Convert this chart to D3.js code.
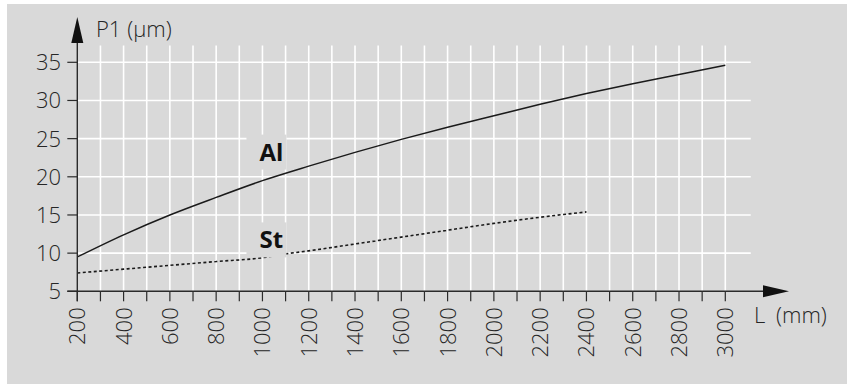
<!DOCTYPE html>
<html>
<head>
<meta charset="utf-8">
<script src="https://cdn.jsdelivr.net/npm/d3@7"></script>
<style>
  html, body { margin: 0; padding: 0; background: #fff; }
  svg { display: block; font-family: "Open Sans", "Noto Sans", sans-serif; }
</style>
</head>
<body>
<div id="chart"></div>
<script>
// values
const lengths = [200, 400, 600, 800, 1000, 1200, 1400, 1600, 1800, 2000, 2200, 2400, 2600, 2800, 3000];
const alValues = [9.5, 12.4, 15.0, 17.3, 19.5, 21.4, 23.2, 24.9, 26.5, 28.0, 29.5, 30.9, 32.2, 33.4, 34.6];
const stLengths = [200, 400, 600, 800, 1000, 1100, 1200, 1400, 1600, 1800, 2000, 2200, 2400];
const stValues = [7.4, 7.9, 8.4, 8.9, 9.4, 9.9, 10.3, 11.2, 12.1, 13.0, 13.9, 14.7, 15.4];
const xLabels = [200, 400, 600, 800, 1000, 1200, 1400, 1600, 1800, 2000, 2200, 2400, 2600, 2800, 3000];
const xMinor = d3.range(200, 3001, 100);
const yTicks = [5, 10, 15, 20, 25, 30, 35];

const width = 847, height = 384;

const svg = d3.select('#chart')
    .append('svg')
    .attr('width', width)
    .attr('height', height);

svg.append('rect')
    .attr('x', 7).attr('y', 4)
    .attr('width', width - 7).attr('height', height - 4)
    .attr('fill', '#d9d9d9');

const x = d3.scaleLinear().domain([200, 3000]).range([77.3, 725.3]);
const y = d3.scaleLinear().domain([5, 35]).range([291.3, 62.3]);

const ink = '#2b2b2b';
const textCol = '#262626';
const fs = 22;

// grid
const grid = svg.append('g');
grid.selectAll('.vg')
    .data(xMinor.slice(1))
    .enter().append('line')
    .attr('x1', d => x(d)).attr('x2', d => x(d))
    .attr('y1', y(37.2)).attr('y2', y(5))
    .attr('stroke', '#fff').attr('stroke-width', 1.6);
grid.selectAll('.hg')
    .data(yTicks.slice(1))
    .enter().append('line')
    .attr('x1', x(200)).attr('x2', x(3110))
    .attr('y1', d => y(d)).attr('y2', d => y(d))
    .attr('stroke', '#fff').attr('stroke-width', 1.6);

// curves
const line = d3.line()
    .x(d => x(d[0]))
    .y(d => y(d[1]))
    .curve(d3.curveCatmullRom);

svg.append('path')
    .datum(lengths.map((l, i) => [l, alValues[i]]))
    .attr('d', line)
    .attr('fill', 'none')
    .attr('stroke', '#1a1a1a')
    .attr('stroke-width', 1.5);

svg.append('path')
    .datum(stLengths.map((l, i) => [l, stValues[i]]))
    .attr('d', line.curve(d3.curveMonotoneX))
    .attr('fill', 'none')
    .attr('stroke', '#1a1a1a')
    .attr('stroke-width', 1.6)
    .attr('stroke-dasharray', '3,2.5');

// series labels with background boxes that cut the grid
const labels = [
    { text: 'Al', L: 1000, v: 23.3 },
    { text: 'St', L: 1000, v: 11.8 }
];
const lab = svg.selectAll('.lab').data(labels).enter().append('g');
lab.append('rect')
    .attr('x', d => x(d.L) - 16)
    .attr('y', d => y(d.v) - 17)
    .attr('width', 40)
    .attr('height', 35)
    .attr('fill', '#d9d9d9');
lab.append('text')
    .attr('x', d => x(d.L) - 3)
    .attr('y', d => y(d.v) + 9)
    .attr('font-size', 24)
    .attr('font-weight', 700)
    .attr('fill', '#111')
    .text(d => d.text);

// axes
const axes = svg.append('g');
axes.append('line')
    .attr('x1', x(200)).attr('x2', x(200))
    .attr('y1', y(5) + 10).attr('y2', 40)
    .attr('stroke', ink).attr('stroke-width', 1.4);
axes.append('path')
    .attr('d', `M${x(200) - 6},43 L${x(200)},17 L${x(200) + 6},43 Z`)
    .attr('fill', '#111');
axes.append('line')
    .attr('x1', x(200) - 10).attr('x2', 765)
    .attr('y1', y(5)).attr('y2', y(5))
    .attr('stroke', ink).attr('stroke-width', 1.4);
axes.append('path')
    .attr('d', `M763,${y(5) - 6} L789,${y(5)} L763,${y(5) + 6} Z`)
    .attr('fill', '#111');

axes.selectAll('.yt')
    .data(yTicks)
    .enter().append('line')
    .attr('x1', x(200) - 10).attr('x2', x(200))
    .attr('y1', d => y(d)).attr('y2', d => y(d))
    .attr('stroke', ink).attr('stroke-width', 1.2);
axes.selectAll('.ytl')
    .data(yTicks)
    .enter().append('text')
    .attr('x', 61)
    .attr('y', d => y(d))
    .attr('dy', '0.36em')
    .attr('text-anchor', 'end')
    .attr('font-size', fs)
    .attr('font-weight', 300)
    .attr('fill', textCol)
    .text(d => d);

axes.selectAll('.xt')
    .data(xMinor)
    .enter().append('line')
    .attr('x1', d => x(d)).attr('x2', d => x(d))
    .attr('y1', y(5)).attr('y2', y(5) + 10)
    .attr('stroke', ink).attr('stroke-width', 1.2);
axes.selectAll('.xtl')
    .data(xLabels)
    .enter().append('text')
    .attr('transform', d => `translate(${x(d)},${y(5) + 16}) rotate(-90)`)
    .attr('dy', '0.36em')
    .attr('text-anchor', 'end')
    .attr('font-size', fs)
    .attr('font-weight', 300)
    .attr('fill', textCol)
    .text(d => d);

// axis titles
svg.append('text')
    .attr('x', 96).attr('y', 37)
    .attr('font-size', fs)
    .attr('font-weight', 300)
    .attr('fill', textCol)
    .text('P1 (\u00b5m)');
svg.append('text')
    .attr('x', 754).attr('y', 323)
    .attr('font-size', fs)
    .attr('font-weight', 300)
    .attr('fill', textCol)
    .text('L');
svg.append('text')
    .attr('x', 776).attr('y', 323)
    .attr('font-size', fs)
    .attr('font-weight', 300)
    .attr('fill', textCol)
    .text('(mm)');
</script>
</body>
</html>
